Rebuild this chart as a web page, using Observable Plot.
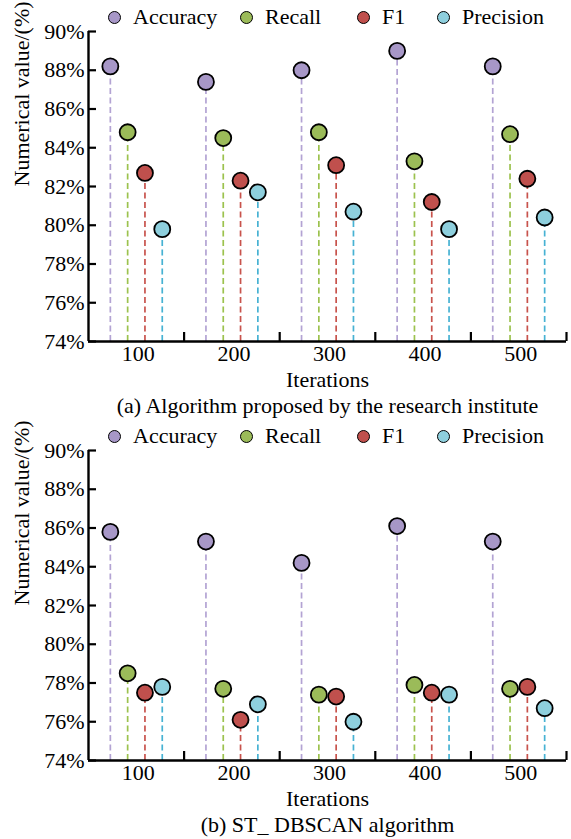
<!DOCTYPE html>
<html>
<head>
<meta charset="utf-8">
<script src="https://cdn.jsdelivr.net/npm/d3@7"></script>
<script src="https://cdn.jsdelivr.net/npm/@observablehq/plot@0.6"></script>
<style>
  body { margin: 0; background: #fff; font-family: "Liberation Serif", "Times New Roman", serif; }
  #root { position: relative; width: 571px; height: 839px; }
  .panel { position: absolute; left: 0; width: 571px; height: 419px; }
  .legend { position: absolute; left: 0; top: 0; width: 571px; height: 34px; font-size: 22px; color: #000; }
  .item { position: absolute; top: 0; height: 34px; display: flex; align-items: center; white-space: nowrap; }
  .swatch { width: 13px; height: 13px; border-radius: 50%; border: 1.7px solid #000; box-sizing: border-box; margin-right: 12px; }
  svg { display: block; }
</style>
</head>
<body>
<div id="root"></div>
<script>
// Iteration counts on the x axis
const iterations = [100, 200, 300, 400, 500];
const metrics = ["Accuracy", "Recall", "F1", "Precision"];

// (a) Algorithm proposed by the research institute, values in %
const accuracyA  = [88.2, 87.4, 88.0, 89.0, 88.2];
const recallA    = [84.8, 84.5, 84.8, 83.3, 84.7];
const f1A        = [82.7, 82.3, 83.1, 81.2, 82.4];
const precisionA = [79.8, 81.7, 80.7, 79.8, 80.4];

// (b) ST_ DBSCAN algorithm, values in %
const accuracyB  = [85.8, 85.3, 84.2, 86.1, 85.3];
const recallB    = [78.5, 77.7, 77.4, 77.9, 77.7];
const f1B        = [77.5, 76.1, 77.3, 77.5, 77.8];
const precisionB = [77.8, 76.9, 76.0, 77.4, 76.7];

const yTicks = [74, 76, 78, 80, 82, 84, 86, 88, 90];
const captionA = "(a) Algorithm proposed by the research institute";
const captionB = "(b) ST_ DBSCAN algorithm";

// marker fill and dashed stem colours per metric
const dotColor  = { Accuracy: "#a797c7", Recall: "#9bbb59", F1: "#c0504d", Precision: "#8ecfdd" };
const stemColor = { Accuracy: "#b3a3d3", Recall: "#9cc24e", F1: "#c8534c", Precision: "#47b2d3" };

const FONT = "'Liberation Serif', 'Times New Roman', serif";
const spread = 0.181; // spacing between the four lollipops of a group, in band units

function legend() {
  const el = document.createElement("div");
  el.className = "legend";
  const lefts = [108, 240, 357, 437];
  metrics.forEach((m, k) => {
    const item = document.createElement("div");
    item.className = "item";
    item.style.left = lefts[k] + "px";
    const sw = document.createElement("span");
    sw.className = "swatch";
    sw.style.background = dotColor[m];
    item.appendChild(sw);
    item.appendChild(document.createTextNode(m));
    el.appendChild(item);
  });
  return el;
}

function chart(series, caption) {
  const rows = metrics.flatMap((m, k) =>
    series[m].map((v, i) => ({ metric: m, pos: i + 1 + (k - 1.5) * spread, value: v }))
  );
  const byMetric = m => rows.filter(d => d.metric === m);
  const bounds = iterations.map((_, i) => i + 1.5);

  return Plot.plot({
    width: 571,
    height: 419,
    marginTop: 31,
    marginBottom: 78,
    marginLeft: 88,
    marginRight: 5,
    x: { domain: [0.5, iterations.length + 0.5] },
    y: { domain: [74, 90] },
    style: { fontFamily: FONT, fontSize: "22px", color: "#000", background: "#fff", overflow: "visible" },
    marks: [
      ...metrics.map(m => Plot.ruleX(byMetric(m), {
        x: "pos", y1: 74, y2: "value",
        stroke: stemColor[m], strokeWidth: 1.7, strokeDasharray: "6,3.5"
      })),
      ...metrics.map(m => Plot.dot(byMetric(m), {
        x: "pos", y: "value", r: 8,
        fill: dotColor[m], stroke: "#000", strokeWidth: 1.8
      })),
      Plot.ruleX([0.5], { stroke: "#000", strokeWidth: 2.4 }),
      Plot.ruleY([74], { stroke: "#000", strokeWidth: 2.4 }),
      Plot.axisY({ ticks: yTicks, tickSize: -8, fill: "none", strokeWidth: 2.2, label: null }),
      Plot.axisY({ ticks: yTicks, tickSize: 0, tickPadding: 4, tickFormat: d => d + "%", fontSize: 22, label: null }),
      Plot.axisX({ ticks: bounds, tickSize: -9, fill: "none", strokeWidth: 2.2, label: null }),
      Plot.axisX({ ticks: iterations.map((_, i) => i + 1), tickSize: 0, tickPadding: 4,
                   tickFormat: d => iterations[d - 1], fontSize: 22, dx: 2, label: null }),
      Plot.text(["Iterations"], { text: d => d, frameAnchor: "bottom", dy: 45, lineAnchor: "bottom", fontSize: 22 }),
      Plot.text([caption], { text: d => d, frameAnchor: "bottom", dy: 71, lineAnchor: "bottom", fontSize: 22 }),
      Plot.text(["Numerical value/(%)"], { text: d => d, frameAnchor: "left", dx: -67, rotate: -90, fontSize: 22 })
    ]
  });
}

const panels = [
  { top: 0,   series: { Accuracy: accuracyA, Recall: recallA, F1: f1A, Precision: precisionA }, caption: captionA },
  { top: 419, series: { Accuracy: accuracyB, Recall: recallB, F1: f1B, Precision: precisionB }, caption: captionB }
];

const root = document.getElementById("root");
for (const p of panels) {
  const div = document.createElement("div");
  div.className = "panel";
  div.style.top = p.top + "px";
  div.appendChild(chart(p.series, p.caption));
  div.appendChild(legend());
  root.appendChild(div);
}
</script>
</body>
</html>
